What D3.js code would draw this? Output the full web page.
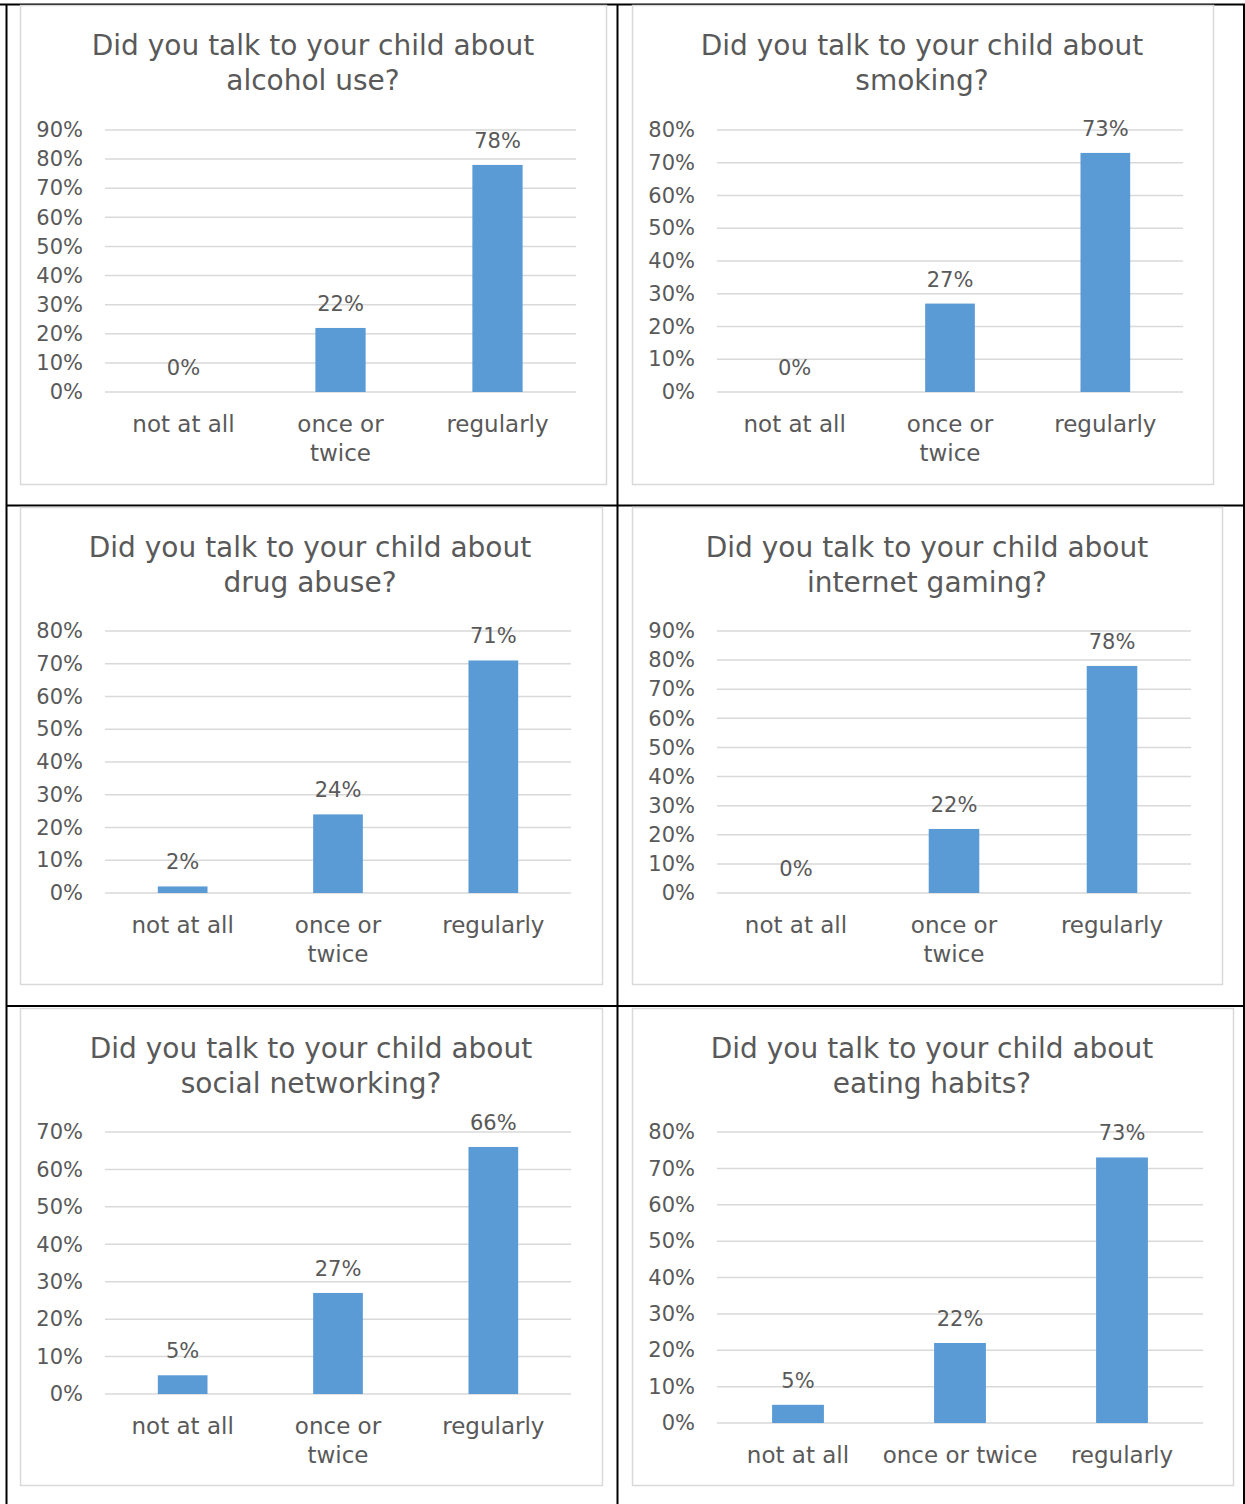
<!DOCTYPE html>
<html>
<head>
<meta charset="utf-8">
<script src="https://cdn.jsdelivr.net/npm/d3@7"></script>
<style>
  html, body { margin: 0; padding: 0; background: #fff; }
  svg { display: block; }
  text { font-family: "DejaVu Sans", sans-serif; fill: #595959; }
</style>
</head>
<body>
<svg id="chart" width="1245" height="1504"></svg>
<script>
// ---- DATA ----
const categories = ["not at all", "once or twice", "regularly"];
const titleLine1 = "Did you talk to your child about";
const topics = ["alcohol use?", "smoking?", "drug abuse?", "internet gaming?", "social networking?", "eating habits?"];
const alcoholUse = [0, 22, 78];
const smoking = [0, 27, 73];
const drugAbuse = [2, 24, 71];
const internetGaming = [0, 22, 78];
const socialNetworking = [5, 27, 66];
const eatingHabits = [5, 22, 73];
const axisMax = [90, 80, 80, 90, 70, 80];
const tickStep = 10;

const seriesList = [alcoholUse, smoking, drugAbuse, internetGaming, socialNetworking, eatingHabits];

// ---- LAYOUT ----
const layout = [
  { box: [20, 5, 586, 479],   plot: [105, 576, 130, 392],   cx: 313, wrap: true },
  { box: [632, 5, 581, 479],  plot: [717, 1183, 130, 392],  cx: 922, wrap: true },
  { box: [20, 507, 582, 477], plot: [105, 571, 631, 893],   cx: 310, wrap: true },
  { box: [632, 507, 590, 477],plot: [717, 1191, 631, 893],  cx: 927, wrap: true },
  { box: [20, 1008, 582, 477],plot: [105, 571, 1132, 1394], cx: 311, wrap: true },
  { box: [632, 1008, 601, 477],plot:[717, 1203, 1132, 1423],cx: 932, wrap: false }
];

const svg = d3.select("#chart");
const barColor = "#5b9bd5";
const gridColor = "#d9d9d9";

// table borders
const tbl = svg.append("g").attr("stroke", "#000").attr("stroke-width", 2);
[[6.5, 4, 6.5, 1504], [0, 4.5, 1245, 4.5], [1244, 4, 1244, 1504], [617.5, 4, 617.5, 1504],
 [6, 505.5, 1245, 505.5], [6, 1006, 1245, 1006]].forEach(l => {
  tbl.append("line").attr("x1", l[0]).attr("y1", l[1]).attr("x2", l[2]).attr("y2", l[3]);
});

seriesList.forEach((values, ci) => {
  const L = layout[ci];
  const g = svg.append("g");
  const [bx, by, bw, bh] = L.box;
  const [pl, pr, pt, pb] = L.plot;

  g.append("rect").attr("x", bx + 0.5).attr("y", by + 0.5).attr("width", bw).attr("height", bh)
    .attr("fill", "#fff").attr("stroke", gridColor).attr("stroke-width", 1.5);

  // title
  const title = g.append("text").attr("text-anchor", "middle").attr("font-size", 28);
  title.append("tspan").attr("x", L.cx).attr("y", by + 50).text(titleLine1);
  title.append("tspan").attr("x", L.cx).attr("y", by + 85).text(topics[ci]);

  const y = d3.scaleLinear().domain([0, axisMax[ci]]).range([pb, pt]);
  const x = d3.scaleBand().domain(categories).range([pl, pr]).paddingInner(0.68).paddingOuter(0.34);

  const ticks = d3.range(0, axisMax[ci] + tickStep / 2, tickStep);

  // gridlines
  g.append("g").selectAll("line").data(ticks).join("line")
    .attr("x1", pl).attr("x2", pr)
    .attr("y1", d => y(d)).attr("y2", d => y(d))
    .attr("stroke", gridColor).attr("stroke-width", 1.5);

  // y axis labels
  const yAxis = d3.axisLeft(y).tickValues(ticks).tickFormat(d => d + "%").tickSize(0).tickPadding(22);
  const ya = g.append("g").attr("transform", `translate(${pl},0)`).call(yAxis);
  ya.select(".domain").remove();
  ya.selectAll("text").attr("font-size", 21).attr("font-family", "DejaVu Sans").attr("fill", "#595959");

  // bars
  g.append("g").selectAll("rect").data(values).join("rect")
    .attr("x", (d, i) => x(categories[i]))
    .attr("width", x.bandwidth())
    .attr("y", d => y(d))
    .attr("height", d => y(0) - y(d))
    .attr("fill", barColor);

  // value labels
  g.append("g").selectAll("text").data(values).join("text")
    .attr("x", (d, i) => x(categories[i]) + x.bandwidth() / 2)
    .attr("y", d => y(d) - 17)
    .attr("text-anchor", "middle").attr("font-size", 21)
    .text(d => d + "%");

  // category labels
  const xAxis = d3.axisBottom(x).tickSize(0).tickPadding(0);
  const xa = g.append("g").attr("transform", `translate(0,${pb})`).call(xAxis);
  xa.select(".domain").remove();
  xa.selectAll("text").each(function (d) {
    const t = d3.select(this);
    t.text(null).attr("font-size", 23).attr("font-family", "DejaVu Sans").attr("fill", "#595959")
      .attr("y", 0).attr("dy", null);
    let lines = [d];
    if (L.wrap && d === "once or twice") lines = ["once or", "twice"];
    lines.forEach((ln, k) => {
      t.append("tspan").attr("x", 0).attr("y", 40 + k * 29).text(ln);
    });
  });
});
</script>
</body>
</html>
